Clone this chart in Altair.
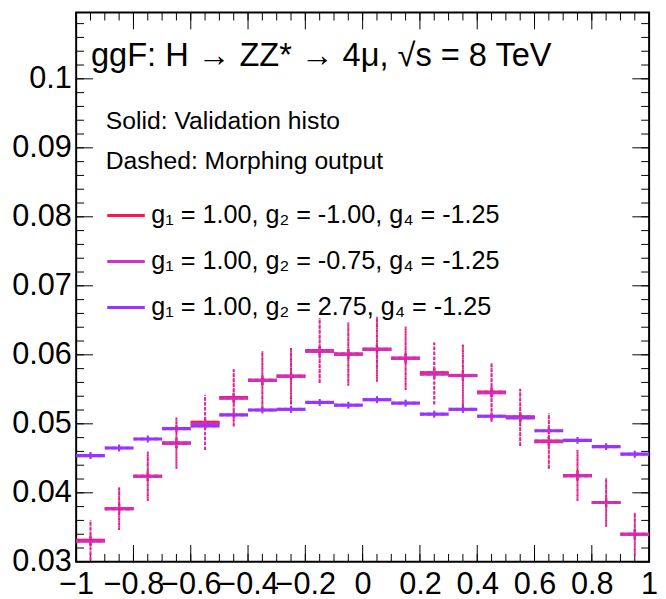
import altair as alt
import pandas as pd
import numpy as np

# ---------------- data ----------------
bin_centers = [-0.95, -0.85, -0.75, -0.65, -0.55, -0.45, -0.35, -0.25, -0.15, -0.05,
               0.05, 0.15, 0.25, 0.35, 0.45, 0.55, 0.65, 0.75, 0.85, 0.95]
bin_half = 0.05

series_names = ["g₁ = 1.00, g₂ = -1.00, g₄ = -1.25",
                "g₁ = 1.00, g₂ = -0.75, g₄ = -1.25",
                "g₁ = 1.00, g₂ = 2.75, g₄ = -1.25"]
series_colors = ["#ff1450", "#cc33cc", "#9933ff"]

red_vals = [0.0331, 0.0377, 0.0424, 0.0472, 0.0502, 0.0538, 0.0563, 0.0569, 0.0606, 0.0601,
            0.0608, 0.0595, 0.0574, 0.0570, 0.0546, 0.0510, 0.0475, 0.0425, 0.0386, 0.0340]
mag_vals = [0.0330, 0.0377, 0.0424, 0.0472, 0.0500, 0.0537, 0.0563, 0.0569, 0.0605, 0.0601,
            0.0608, 0.0595, 0.0572, 0.0570, 0.0545, 0.0509, 0.0474, 0.0425, 0.0386, 0.0340]
pur_vals = [0.0454, 0.0465, 0.0478, 0.0493, 0.0497, 0.0513, 0.0520, 0.0521, 0.0531, 0.0527,
            0.0535, 0.0530, 0.0514, 0.0521, 0.0511, 0.0509, 0.0490, 0.0476, 0.0467, 0.0456]

# morphing-output (dotted) uncertainties
morph_err = [0.0029, 0.0031, 0.0036, 0.0037, 0.0040, 0.0042, 0.0042, 0.0041, 0.0047, 0.0046,
             0.0047, 0.0046, 0.0046, 0.0045, 0.0043, 0.0042, 0.0040, 0.0037, 0.0035, 0.0031]
pur_morph_err = [0.0005] * 20
# validation (solid) uncertainties
valid_err = [0.0007, 0.0007, 0.0005]

x_major = [-1.0, -0.8, -0.6, -0.4, -0.2, 0.0, 0.2, 0.4, 0.6, 0.8, 1.0]
y_major = [0.03, 0.04, 0.05, 0.06, 0.07, 0.08, 0.09, 0.10]
x_minor = list(np.round(np.arange(-1.0, 1.0001, 0.05), 3))
y_minor = list(np.round(np.arange(0.030, 0.1095, 0.002), 4))

title_text = "ggF: H → ZZ* → 4μ, √s = 8 TeV"
note1 = "Solid: Validation histo"
note2 = "Dashed: Morphing output"

# ---------------- build tables ----------------
W, H = 580, 556
YMIN, YMAX = 0.03, 0.1096
FONT = "Liberation Sans"

rows = []
all_vals = [red_vals, mag_vals, pur_vals]
all_merr = [morph_err, morph_err, pur_morph_err]
for k, name in enumerate(series_names):
    for c, v, e in zip(bin_centers, all_vals[k], all_merr[k]):
        rows.append(dict(series=name, order=k, x=c, lo=c - bin_half, hi=c + bin_half, y=v,
                         elo=v - e, ehi=v + e,
                         slo=v - valid_err[k], shi=v + valid_err[k]))
df = pd.DataFrame(rows)

xs = alt.Scale(domain=[-1, 1], nice=False, zero=False)
ys = alt.Scale(domain=[YMIN, YMAX], nice=False, zero=False)
cscale = alt.Scale(domain=series_names, range=series_colors)

base = alt.Chart(df)

hbars = base.mark_rule(strokeWidth=3.2, clip=True).encode(
    x=alt.X("lo:Q", scale=xs,
            axis=alt.Axis(values=x_major, labelExpr="datum.value == 0 ? '0' : replace(format(datum.value, '.1~f'), '-', '\u2212')",
                          labelFontSize=31, labelFont=FONT, labelColor="black", ticks=False, tickSize=0,
                          domain=False, grid=False, title=None, labelPadding=8,
                          labelOverlap=False, labelFlush=False, labelBound=False)),
    x2="hi:Q",
    y=alt.Y("y:Q", scale=ys,
            axis=alt.Axis(values=y_major, format=".2~f", labelFontSize=31, labelFont=FONT,
                          labelColor="black", ticks=False, tickSize=0, domain=False, grid=False,
                          title=None, labelPadding=5, labelOverlap=False, labelFlush=False,
                          labelBound=False)),
    color=alt.Color("series:N", scale=cscale,
                    legend=alt.Legend(orient="none", legendX=30, legendY=185, title=None,
                                      symbolType="stroke", symbolSize=1444, symbolStrokeWidth=3,
                                      labelFontSize=25.5, labelFont=FONT, labelColor="black",
                                      rowPadding=12.5, labelOffset=5, labelLimit=600)),
    order="order:Q",
)

hdash = base.mark_rule(strokeWidth=3.2, strokeDash=[4, 3], opacity=0.6, clip=True).encode(
    x=alt.X("lo:Q", scale=xs), x2="hi:Q", y=alt.Y("y:Q", scale=ys),
    color=alt.Color("series:N", scale=cscale, legend=None),
    order="order:Q",
)

solid_err = base.mark_rule(strokeWidth=2.2, clip=True).encode(
    x=alt.X("x:Q", scale=xs), y=alt.Y("slo:Q", scale=ys), y2="shi:Q",
    color=alt.Color("series:N", scale=cscale, legend=None),
    order="order:Q",
)

dot_red = alt.Chart(df[df.order == 0]).mark_rule(strokeWidth=2, strokeDash=[2.5, 2.5], clip=True,
                                                color=series_colors[0]).encode(
    x=alt.X("x:Q", scale=xs), y=alt.Y("elo:Q", scale=ys), y2="ehi:Q")
dot_mag = alt.Chart(df[df.order == 1]).mark_rule(strokeWidth=2, strokeDash=[2.5, 2.5], strokeDashOffset=2.5,
                                                clip=True, color=series_colors[1]).encode(
    x=alt.X("x:Q", scale=xs), y=alt.Y("elo:Q", scale=ys), y2="ehi:Q")

# ---------------- inward ROOT-style ticks ----------------
xmaj = pd.DataFrame({"v": x_major})
xmin_ = pd.DataFrame({"v": x_minor})
ymaj = pd.DataFrame({"v": y_major})
ymin_ = pd.DataFrame({"v": y_minor})

def xticks(d, L):
    b = alt.Chart(d).mark_rule(color="black", strokeWidth=1)
    return (b.encode(x=alt.X("v:Q", scale=xs), y=alt.value(H), y2=alt.value(H - L)) +
            b.encode(x=alt.X("v:Q", scale=xs), y=alt.value(0), y2=alt.value(L)))

def yticks(d, L):
    b = alt.Chart(d).mark_rule(color="black", strokeWidth=1)
    return (b.encode(y=alt.Y("v:Q", scale=ys), x=alt.value(0), x2=alt.value(L)) +
            b.encode(y=alt.Y("v:Q", scale=ys), x=alt.value(W), x2=alt.value(W - L)))

ticks = xticks(xmaj, 17) + xticks(xmin_, 8) + yticks(ymaj, 17) + yticks(ymin_, 8)

# ---------------- annotations ----------------
title = alt.Chart(pd.DataFrame({"t": [title_text]})).mark_text(
    align="left", baseline="alphabetic", fontSize=33, font=FONT, color="black").encode(
    x=alt.value(15), y=alt.value(54), text="t:N")
n1 = alt.Chart(pd.DataFrame({"t": [note1]})).mark_text(
    align="left", baseline="middle", fontSize=25, font=FONT, color="black").encode(
    x=alt.value(30), y=alt.value(110), text="t:N")
n2 = alt.Chart(pd.DataFrame({"t": [note2]})).mark_text(
    align="left", baseline="middle", fontSize=25, font=FONT, color="black").encode(
    x=alt.value(30), y=alt.value(150), text="t:N")

chart = alt.layer(ticks, hbars, hdash, solid_err, dot_red, dot_mag, title, n1, n2).resolve_scale(
    color="shared").properties(
    width=W, height=H,
    autosize=alt.AutoSizeParams(type="none"),
    padding={"left": 69, "top": 1, "right": 9, "bottom": 34},
    background="white",
).configure_view(stroke="black", strokeWidth=2)

chart.save("out.html", embed_options={"renderer": "svg", "actions": False})
